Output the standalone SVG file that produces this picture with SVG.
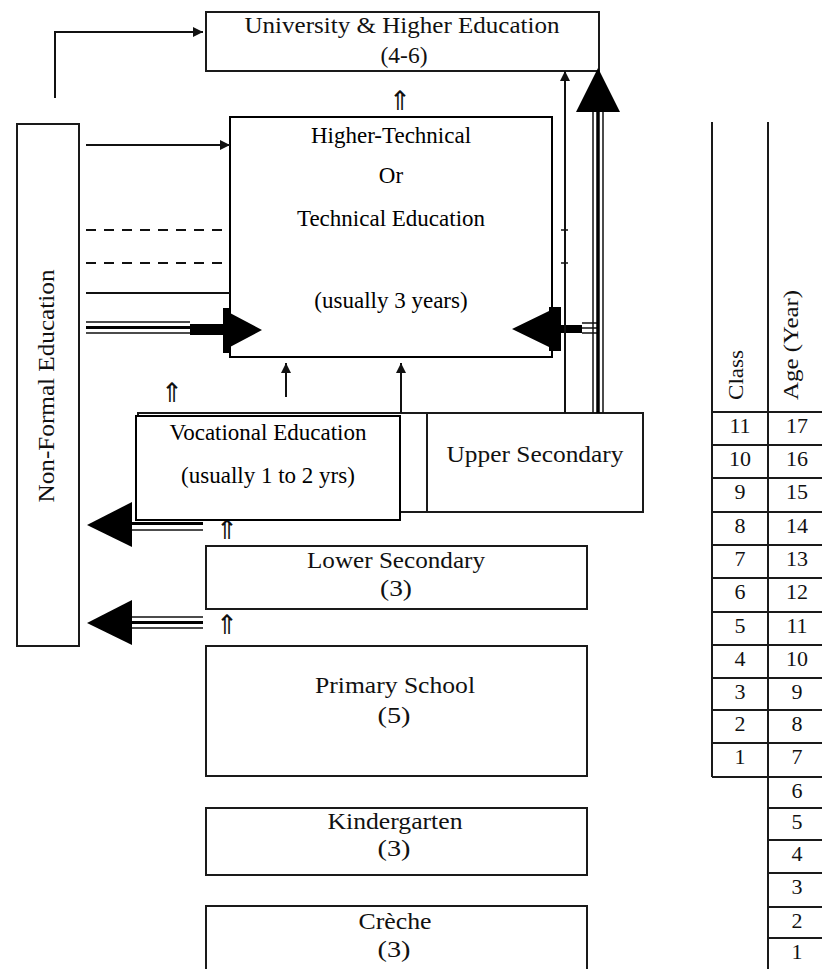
<svg xmlns="http://www.w3.org/2000/svg" width="822" height="969" viewBox="0 0 822 969">
<defs>
<style>
.box{fill:#fff;stroke:#1a1a1a;stroke-width:2}
.bx{fill:#fff;stroke:#000;stroke-width:2}
.ln{stroke:#111;stroke-width:2;fill:none}
.th{stroke:#111;stroke-width:1.5;fill:none}
.tk{stroke:#000;stroke-width:3.5;fill:none}
.dash{stroke:#111;stroke-width:2;stroke-dasharray:10 8;fill:none}
.hd{fill:#000}
.bm{font-family:"Liberation Serif","DejaVu Serif",serif;font-size:24px;fill:#111;text-anchor:middle}
.tn{font-family:"Liberation Serif","Times New Roman",serif;font-size:23px;fill:#000;text-anchor:middle}
.dg{font-family:"Liberation Serif","DejaVu Serif",serif;font-size:22px;fill:#111;text-anchor:middle}
.hdr{font-family:"Liberation Serif","DejaVu Serif",serif;font-size:22px;fill:#111;text-anchor:middle}
.sym{font-family:"DejaVu Sans",sans-serif;font-size:27px;fill:#111;text-anchor:middle}
.tl{stroke:#1a1a1a;stroke-width:2;fill:none}
</style>
<marker id="ah" viewBox="0 0 10 10" refX="10" refY="5" markerWidth="14" markerHeight="10" markerUnits="userSpaceOnUse" orient="auto"><path d="M0,0L10,5L0,10z" fill="#111"/></marker>
</defs>
<rect x="0" y="0" width="822" height="969" fill="#fff"/>

<g id="university">
<rect class="box" x="206" y="12" width="393" height="59"/>
<text class="bm" x="402" y="33" textLength="315" lengthAdjust="spacingAndGlyphs">University &amp; Higher Education</text>
<text class="bm" x="404" y="63" textLength="47" lengthAdjust="spacingAndGlyphs">(4-6)</text>
</g>

<g id="non-formal">
<rect class="box" x="17" y="124" width="62" height="522"/>
<text class="bm" transform="translate(54,386) rotate(-90)" x="0" y="0" textLength="233" lengthAdjust="spacingAndGlyphs">Non-Formal Education</text>
</g>

<g id="higher-technical">
<rect class="bx" x="230" y="117" width="322" height="240"/>
<text class="tn" x="391" y="143">Higher-Technical</text>
<text class="tn" x="391" y="183">Or</text>
<text class="tn" x="391" y="226">Technical Education</text>
<text class="tn" x="391" y="308">(usually 3 years)</text>
</g>

<g id="upper-secondary">
<rect class="box" x="138" y="413" width="505" height="99"/>
<line class="tl" x1="427" y1="413" x2="427" y2="512"/>
<text class="bm" x="535" y="462" textLength="177" lengthAdjust="spacingAndGlyphs">Upper Secondary</text>
</g>

<g id="lower-secondary">
<rect class="box" x="206" y="546" width="381" height="63"/>
<text class="bm" x="396" y="568" textLength="178" lengthAdjust="spacingAndGlyphs">Lower Secondary</text>
<text class="bm" x="396" y="596" textLength="32" lengthAdjust="spacingAndGlyphs">(3)</text>
</g>

<g id="primary">
<rect class="box" x="206" y="646" width="381" height="130"/>
<text class="bm" x="395" y="693" textLength="160" lengthAdjust="spacingAndGlyphs">Primary School</text>
<text class="bm" x="394" y="723" textLength="33" lengthAdjust="spacingAndGlyphs">(5)</text>
</g>

<g id="kindergarten">
<rect class="box" x="206" y="808" width="381" height="67"/>
<text class="bm" x="395" y="829" textLength="135" lengthAdjust="spacingAndGlyphs">Kindergarten</text>
<text class="bm" x="394" y="856" textLength="33" lengthAdjust="spacingAndGlyphs">(3)</text>
</g>

<g id="creche">
<rect class="box" x="206" y="906" width="381" height="80"/>
<text class="bm" x="395" y="929" textLength="73" lengthAdjust="spacingAndGlyphs">Crèche</text>
<text class="bm" x="394" y="957" textLength="33" lengthAdjust="spacingAndGlyphs">(3)</text>
</g>

<g id="connectors">
<path class="ln" d="M55,98V32H203" marker-end="url(#ah)"/>
<path class="ln" d="M86,145H230" marker-end="url(#ah)"/>
<path class="dash" d="M86,230H230"/>
<path class="dash" d="M86,263H230"/>
<path class="th" d="M561,230H568M561,263H568"/>
<path class="ln" d="M86,293H230"/>
<path class="th" d="M86,322H190M86,333H190"/>
<path class="tk" d="M86,327.5H190" style="stroke-width:3"/>
<rect class="hd" x="190" y="324" width="33" height="11"/>
<polygon class="hd" points="223,308 230,308 230,313 262,330 230,347 230,353 223,353"/>
<polygon class="hd" points="561,307 561,351 549,351 549,347 512,329 549,311 549,307"/>
<rect class="hd" x="561" y="325" width="21" height="8"/>
<path class="th" d="M582,323H597M582,328H597M582,333H597"/>
<path class="ln" d="M286,397V363" marker-end="url(#ah)"/>
<path class="ln" d="M401,413V363" marker-end="url(#ah)"/>
<path class="ln" d="M565,413V71" marker-end="url(#ah)"/>
<path class="th" d="M593,413V110M603,413V110"/>
<path class="tk" d="M598,413V110"/>
<polygon class="hd" points="598,68 576,112 620,112"/>
<polygon class="hd" points="87,525 132,502 132,547"/>
<path class="tk" d="M132,523.5H203" style="stroke-width:3"/>
<path class="th" d="M132,530H203"/>
<polygon class="hd" points="87,623 132,600 132,645"/>
<path class="th" d="M132,617H203M132,628H203"/>
<path class="tk" d="M132,622.5H203" style="stroke-width:3"/>
<text class="sym" x="400" y="110">⇑</text>
<text class="sym" x="172" y="402">⇑</text>
<text class="sym" x="227" y="539">⇑</text>
<text class="sym" x="227" y="634">⇑</text>
</g>

<g id="vocational">
<rect class="bx" x="136" y="416" width="264" height="104"/>
<text class="tn" x="268" y="440">Vocational Education</text>
<text class="tn" x="268" y="483">(usually 1 to 2 yrs)</text>
</g>

<g id="age-table">
<path class="tl" d="M712,122V777M768,122V969"/>
<path class="tl" d="M712,412H822M712,445H822M712,478H822M712,512H822M712,545H822M712,578H822M712,612H822M712,645H822M712,678H822M712,710H822M712,743H822M712,777H822M768,808H822M768,840H822M768,873H822M768,907H822M768,938H822"/>
<text class="hdr" transform="translate(743,375) rotate(-90)" textLength="50" lengthAdjust="spacingAndGlyphs">Class</text>
<text class="hdr" transform="translate(798,345) rotate(-90)" textLength="110" lengthAdjust="spacingAndGlyphs">Age  (Year)</text>
<g class="dg">
<text x="740" y="433">11</text><text x="797" y="433">17</text>
<text x="740" y="466">10</text><text x="797" y="466">16</text>
<text x="740" y="499">9</text><text x="797" y="499">15</text>
<text x="740" y="533">8</text><text x="797" y="533">14</text>
<text x="740" y="566">7</text><text x="797" y="566">13</text>
<text x="740" y="599">6</text><text x="797" y="599">12</text>
<text x="740" y="633">5</text><text x="797" y="633">11</text>
<text x="740" y="666">4</text><text x="797" y="666">10</text>
<text x="740" y="699">3</text><text x="797" y="699">9</text>
<text x="740" y="731">2</text><text x="797" y="731">8</text>
<text x="740" y="764">1</text><text x="797" y="764">7</text>
<text x="797" y="798">6</text>
<text x="797" y="829">5</text>
<text x="797" y="861">4</text>
<text x="797" y="894">3</text>
<text x="797" y="928">2</text>
<text x="797" y="959">1</text>
</g>
</g>
</svg>
